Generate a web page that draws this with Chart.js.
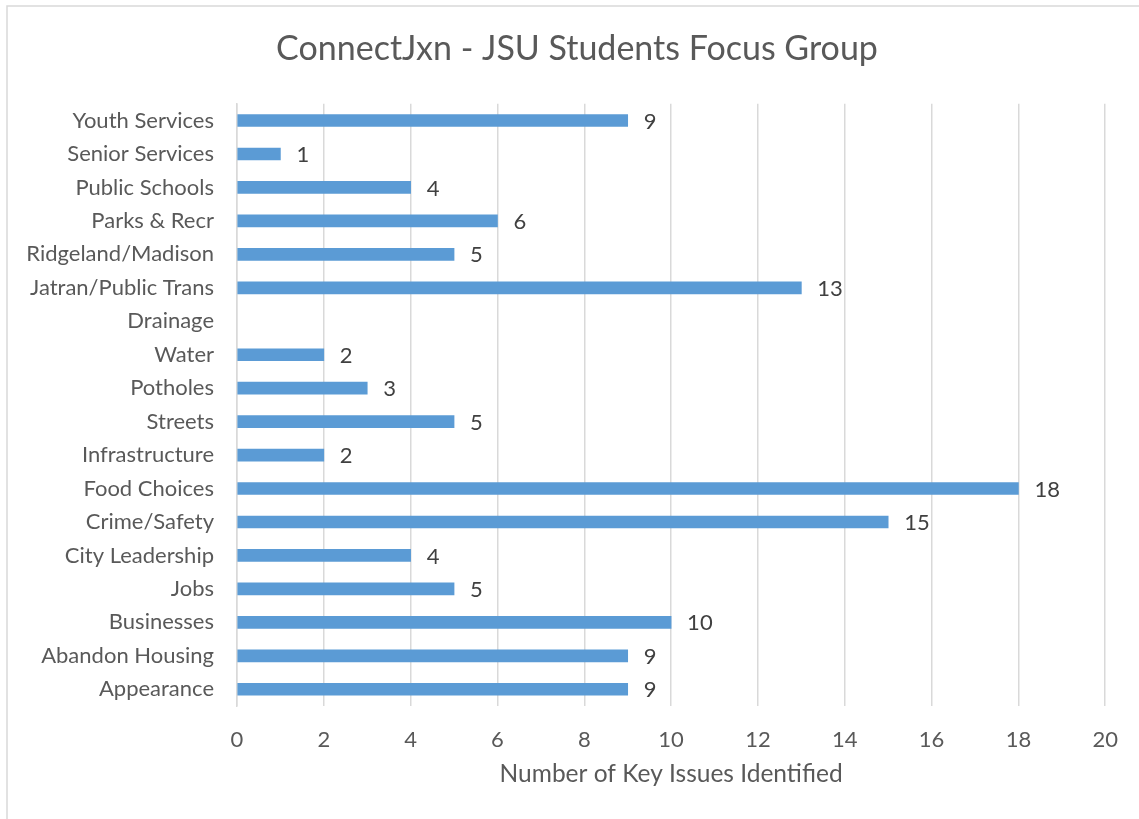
<!DOCTYPE html>
<html>
<head>
<meta charset="utf-8">
<script src="https://cdn.jsdelivr.net/npm/chart.js@4"></script>
<style>
  html, body { margin: 0; padding: 0; background: #fff; }
  canvas { display: block; }
</style>
</head>
<body>
<canvas id="issues-chart" width="1139" height="819"></canvas>
<script>
// categories top to bottom, as in the picture
const categories = ["Youth Services", "Senior Services", "Public Schools", "Parks & Recr",
  "Ridgeland/Madison", "Jatran/Public Trans", "Drainage", "Water", "Potholes", "Streets",
  "Infrastructure", "Food Choices", "Crime/Safety", "City Leadership", "Jobs",
  "Businesses", "Abandon Housing", "Appearance"];
const issueCounts = [9, 1, 4, 6, 5, 13, null, 2, 3, 5, 2, 18, 15, 4, 5, 10, 9, 9];
const xTicks = [0, 2, 4, 6, 8, 10, 12, 14, 16, 18, 20];

const FONT = "Lato, 'Open Sans', sans-serif";

// value labels at the end of each bar
const barLabels = {
  id: 'barLabels',
  afterDatasetsDraw(chart) {
    const ctx = chart.ctx;
    const meta = chart.getDatasetMeta(0);
    ctx.save();
    ctx.font = "22px " + FONT;
    ctx.fillStyle = "#404040";
    ctx.textBaseline = "middle";
    ctx.textAlign = "left";
    meta.data.forEach((bar, i) => {
      const v = issueCounts[i];
      if (v === null) return;
      ctx.fillText(String(v), bar.x + 16, bar.y + 1);
    });
    ctx.restore();
  }
};

// thin frame on the left and top, like the original export
const frame = {
  id: 'frame',
  afterLayout(chart) {
    // excel centres the title a bit right of the canvas middle
    if (chart.titleBlock) {
      chart.titleBlock.left = 47;
      chart.titleBlock.right = 1107;
    }
  },
  beforeDraw(chart) {
    const ctx = chart.ctx;
    ctx.save();
    ctx.strokeStyle = "#d9d9d9";
    ctx.lineWidth = 1.5;
    ctx.beginPath();
    ctx.moveTo(7, 819);
    ctx.lineTo(7, 6);
    ctx.lineTo(1139, 6);
    ctx.stroke();
    ctx.restore();
  }
};

new Chart(document.getElementById("issues-chart"), {
  type: 'bar',
  data: {
    labels: categories,
    datasets: [{
      label: "Key issues",
      data: issueCounts,
      backgroundColor: "#5b9bd5",
      barThickness: 12
    }]
  },
  plugins: [barLabels, frame],
  options: {
    indexAxis: 'y',
    responsive: false,
    animation: false,
    devicePixelRatio: 1,
    layout: { padding: { top: 0, right: 25, bottom: 0, left: 0 } },
    plugins: {
      legend: { display: false },
      tooltip: { enabled: false },
      title: {
        display: true,
        text: "ConnectJxn - JSU Students Focus Group",
        color: "#595959",
        font: { family: FONT, size: 34, weight: 'normal' },
        padding: { top: 29, bottom: 34 }
      }
    },
    scales: {
      x: {
        min: 0,
        max: 20,
        afterBuildTicks(scale) {
          scale.ticks = xTicks.map(v => ({ value: v }));
        },
        afterFit(scale) { scale.height = 113; },
        grid: { color: "#d9d9d9", lineWidth: 1.5, drawTicks: false },
        border: { display: false },
        ticks: { color: "#595959", padding: 21, font: { family: FONT, size: 22 } },
        title: {
          display: true,
          text: "Number of Key Issues Identified",
          color: "#595959",
          font: { family: FONT, size: 24.5 },
          padding: { top: 0, bottom: 30 }
        }
      },
      y: {
        afterFit(scale) { scale.width = 237; },
        grid: { display: false, drawTicks: false },
        border: { display: true, color: "#d9d9d9", width: 1.5 },
        ticks: { color: "#595959", padding: 23, font: { family: FONT, size: 22 }, autoSkip: false }
      }
    }
  }
});
</script>
</body>
</html>
